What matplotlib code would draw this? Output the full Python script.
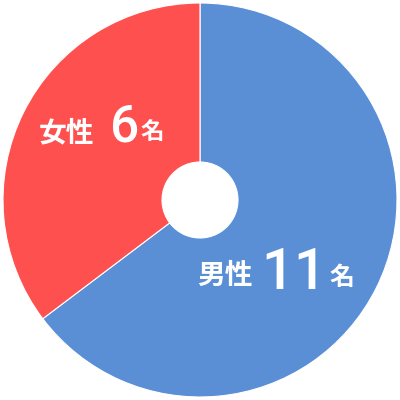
import matplotlib.pyplot as plt

# data
labels = ["男性", "女性"]
counts = [11, 6]
colors = ["#5a8fd6", "#ff5050"]

plt.rcParams['font.family'] = ['Noto Sans CJK JP', 'DejaVu Sans']

fig = plt.figure(figsize=(4, 4), dpi=100)
ax = fig.add_axes([0, 0, 1, 1])

R = 197 / 200
ax.pie(counts, colors=colors, startangle=90, counterclock=False,
       radius=R, wedgeprops=dict(width=R - 0.19, edgecolor="white", linewidth=0.8))

ax.set_xlim(-1, 1)
ax.set_ylim(-1, 1)
ax.set_aspect('equal')
ax.axis('off')


def px(x, y):
    # pixel position -> data coordinates
    return (x - 200) / 200, (200 - y) / 200


num_style = dict(color="white", family="Roboto", fontweight="medium", ha="center", va="baseline")
kanji_style = dict(color="white", fontweight="bold", ha="center", va="center")

# male label
x, y = px(225, 276)
ax.text(x, y, labels[0], fontsize=20, **kanji_style)
# digits drawn one by one for the wide spacing
for ch, cx in zip(str(counts[0]), [277, 309]):
    x, y = px(cx, 289)
    ax.text(x, y, ch, fontsize=41, **num_style)
x, y = px(342, 278)
ax.text(x, y, "名", fontsize=18, **kanji_style)

# female label
x, y = px(66, 133)
ax.text(x, y, labels[1], fontsize=20, **kanji_style)
x, y = px(125, 141)
ax.text(x, y, str(counts[1]), fontsize=37, **num_style)
x, y = px(152, 132)
ax.text(x, y, "名", fontsize=17, **kanji_style)

fig.savefig("out.png", dpi=100)
